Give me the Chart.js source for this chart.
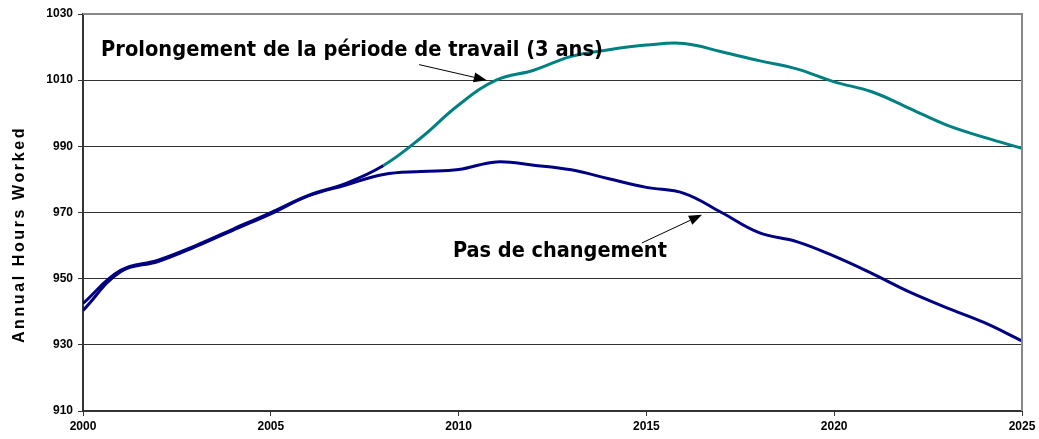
<!DOCTYPE html>
<html lang="fr">
<head>
  <meta charset="UTF-8">
  <title>Annual Hours Worked</title>
  <script src="https://cdn.jsdelivr.net/npm/chart.js"></script>
  <style>
    html, body { margin: 0; padding: 0; background: #fff; }
    #wrap { width: 1039px; height: 439px; position: relative; }
  </style>
</head>
<body>
<div id="wrap"><canvas id="graphique"></canvas></div>
<script>
// données
const annees = [2000, 2001, 2002, 2003, 2004, 2005, 2006, 2007, 2008, 2009, 2010, 2011, 2012,
                2013, 2014, 2015, 2016, 2017, 2018, 2019, 2020, 2021, 2022, 2023, 2024, 2025];
const pasDeChangement = [940.4, 952.1, 955.2, 959.7, 964.7, 969.6, 975.0, 978.3, 981.5, 982.4, 983.0, 985.3, 984.3,
                         982.9, 980.2, 977.6, 975.8, 970.0, 963.9, 961.2, 956.8, 951.6, 946.0, 941.2, 936.7, 931.2];
const prolongement = [942.5, 952.5, 955.6, 960.0, 965.0, 970.0, 975.2, 978.8, 984.2, 992.6, 1002.5, 1010.0, 1013.0,
                      1017.2, 1019.2, 1020.6, 1021.1, 1018.6, 1015.9, 1013.4, 1009.5, 1006.5, 1001.5, 996.4, 992.7, 989.4];
const ticksX = [2000, 2005, 2010, 2015, 2020, 2025];
const ticksY = [910, 930, 950, 970, 990, 1010, 1030];

const marine = '#000080';
const sarcelle = '#008080';
const toPoints = vals => annees.map((a, i) => ({ x: a, y: vals[i] }));

// annotations + cadre + titre de l'axe Y
const decor = {
  id: 'decor',
  afterDraw(chart) {
    const { ctx, chartArea: ca, scales: { x, y } } = chart;
    ctx.save();
    // cadre gris haut / droite
    ctx.strokeStyle = '#888';
    ctx.lineWidth = 2;
    ctx.beginPath();
    ctx.moveTo(ca.left, ca.top);
    ctx.lineTo(ca.right, ca.top);
    ctx.lineTo(ca.right, ca.bottom);
    ctx.stroke();

    // titre Y
    ctx.translate(20, (ca.top + ca.bottom) / 2 + 22);
    ctx.rotate(-Math.PI / 2);
    ctx.font = "bold 16px 'Liberation Sans', Arial, sans-serif";
    ctx.letterSpacing = '2.6px';
    ctx.fillStyle = '#000';
    ctx.textAlign = 'center';
    ctx.textBaseline = 'middle';
    ctx.fillText('Annual Hours Worked', 0, 0);
    ctx.restore();

    ctx.save();
    const fitText = (txt, left, base, width) => {
      ctx.font = "bold 20px 'DejaVu Sans Condensed', 'DejaVu Sans', sans-serif";
      const w = ctx.measureText(txt).width;
      const size = 20 * width / w;
      ctx.font = `bold ${size.toFixed(2)}px 'DejaVu Sans Condensed', 'DejaVu Sans', sans-serif`;
      ctx.fillStyle = '#000';
      ctx.textAlign = 'left';
      ctx.textBaseline = 'alphabetic';
      ctx.fillText(txt, left, base);
    };
    const arrow = (x0, y0, x1, y1) => {
      ctx.strokeStyle = '#000';
      ctx.fillStyle = '#000';
      ctx.lineWidth = 1;
      const ang = Math.atan2(y1 - y0, x1 - x0);
      const len = 13, half = 5;
      const bx = x1 - len * Math.cos(ang), by = y1 - len * Math.sin(ang);
      ctx.beginPath();
      ctx.moveTo(x0, y0);
      ctx.lineTo(bx, by);
      ctx.stroke();
      ctx.beginPath();
      ctx.moveTo(x1, y1);
      ctx.lineTo(bx + half * Math.sin(ang), by - half * Math.cos(ang));
      ctx.lineTo(bx - half * Math.sin(ang), by + half * Math.cos(ang));
      ctx.closePath();
      ctx.fill();
    };

    fitText('Prolongement de la période de travail (3 ans)', x.getPixelForValue(2000.48), y.getPixelForValue(1017.4), 502);
    arrow(x.getPixelForValue(2008.95), y.getPixelForValue(1014.7), x.getPixelForValue(2010.75), y.getPixelForValue(1010));
    fitText('Pas de changement', x.getPixelForValue(2009.85), y.getPixelForValue(956.5), 214);
    arrow(x.getPixelForValue(2014.88), y.getPixelForValue(960.8), x.getPixelForValue(2016.48), y.getPixelForValue(969.3));
    ctx.restore();
  }
};

const config = {
  type: 'line',
  data: {
    datasets: [
      {
        label: 'Pas de changement',
        data: toPoints(pasDeChangement),
        borderColor: marine,
        borderWidth: 3,
        pointRadius: 0,
        tension: 0.4
      },
      {
        label: 'Prolongement de la période de travail (3 ans)',
        data: toPoints(prolongement),
        borderColor: sarcelle,
        borderWidth: 3,
        pointRadius: 0,
        tension: 0.4,
        segment: {
          borderColor: c => c.p1.parsed.x <= 2008 ? marine : sarcelle
        }
      }
    ]
  },
  options: {
    responsive: true,
    maintainAspectRatio: false,
    animation: false,
    layout: { padding: { top: 14, right: 17, left: 0, bottom: 0 } },
    plugins: { legend: { display: false }, tooltip: { enabled: false } },
    scales: {
      x: {
        type: 'linear',
        min: 2000,
        max: 2025,
        afterFit: s => { s.height = 28; },
        afterBuildTicks: s => { s.ticks = ticksX.map(v => ({ value: v })); },
        ticks: {
          color: '#000',
          font: { family: "'Liberation Sans', Arial, sans-serif", size: 12, weight: 'bold' },
          padding: 3,
          maxRotation: 0,
          callback: v => String(v)
        },
        grid: { drawOnChartArea: false, drawTicks: true, tickLength: 5, color: '#333' },
        border: { color: '#333', width: 2 }
      },
      y: {
        min: 910,
        max: 1030,
        afterFit: s => { s.width = 83; },
        afterBuildTicks: s => { s.ticks = ticksY.map(v => ({ value: v })); },
        ticks: {
          color: '#000',
          font: { family: "'Liberation Sans', Arial, sans-serif", size: 12, weight: 'bold' },
          padding: 5,
          callback: v => String(v)
        },
        grid: { color: '#333', lineWidth: 1, tickLength: 5 },
        border: { color: '#333', width: 2 }
      }
    }
  },
  plugins: [decor]
};

new Chart(document.getElementById('graphique'), config);
</script>
</body>
</html>
